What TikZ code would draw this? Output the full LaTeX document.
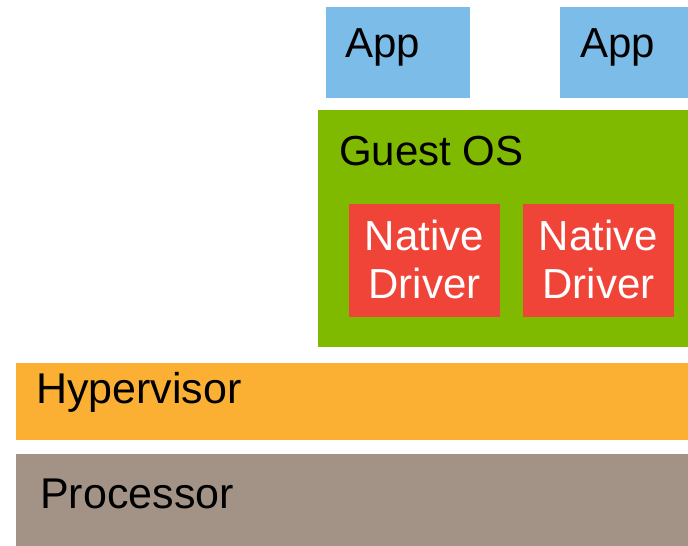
\documentclass[tikz,border=0pt]{standalone}
\usepackage{fontspec}
\setmainfont{Liberation Sans}
\definecolor{appblue}{RGB}{123,189,232}
\definecolor{osgreen}{RGB}{127,186,0}
\definecolor{drvred}{RGB}{240,68,56}
\definecolor{hvorange}{RGB}{251,176,52}
\definecolor{cputaupe}{RGB}{162,147,134}
\tikzset{
  layerbox/.style={inner sep=0pt, outer sep=0pt, anchor=north west},
  lbl/.style={anchor=base west, inner sep=0pt, font=\fontsize{42}{48}\selectfont},
  biglbl/.style={anchor=base west, inner sep=0pt, font=\fontsize{43}{48}\selectfont},
  drvlbl/.style={anchor=base, inner sep=0pt, text=white, font=\fontsize{42}{48}\selectfont}
}
\begin{document}
\begin{tikzpicture}[x=1pt,y=-1pt]
\useasboundingbox (0,0) rectangle (688,546);
% boxes
\node[layerbox, fill=appblue, minimum width=144pt, minimum height=91pt] (app1) at (326,7) {};
\node[layerbox, fill=appblue, minimum width=128pt, minimum height=91pt] (app2) at (560,7) {};
\node[layerbox, fill=osgreen, minimum width=370pt, minimum height=237pt] (guest) at (318,110) {};
\node[layerbox, fill=drvred, minimum width=151pt, minimum height=113pt] (drv1) at (349,204) {};
\node[layerbox, fill=drvred, minimum width=151pt, minimum height=113pt] (drv2) at (523,204) {};
\node[layerbox, fill=hvorange, minimum width=672pt, minimum height=77pt] (hv) at (16,363) {};
\node[layerbox, fill=cputaupe, minimum width=672pt, minimum height=92pt] (cpu) at (16,454) {};
% labels
\node[lbl] (t1) at (345,57) {App};
\node[lbl] (t2) at (580,57) {App};
\node[lbl] (t3) at (339,165) {Guest OS};
\node[drvlbl] (t4) at (424.5,250) {Native};
\node[drvlbl] (t5) at (424.5,298) {Driver};
\node[drvlbl] (t6) at (598.5,250) {Native};
\node[drvlbl] (t7) at (598.5,298) {Driver};
\node[biglbl] (t8) at (36,403) {Hypervisor};
\node[biglbl] (t9) at (40,508) {Processor};
\end{tikzpicture}
\end{document}
